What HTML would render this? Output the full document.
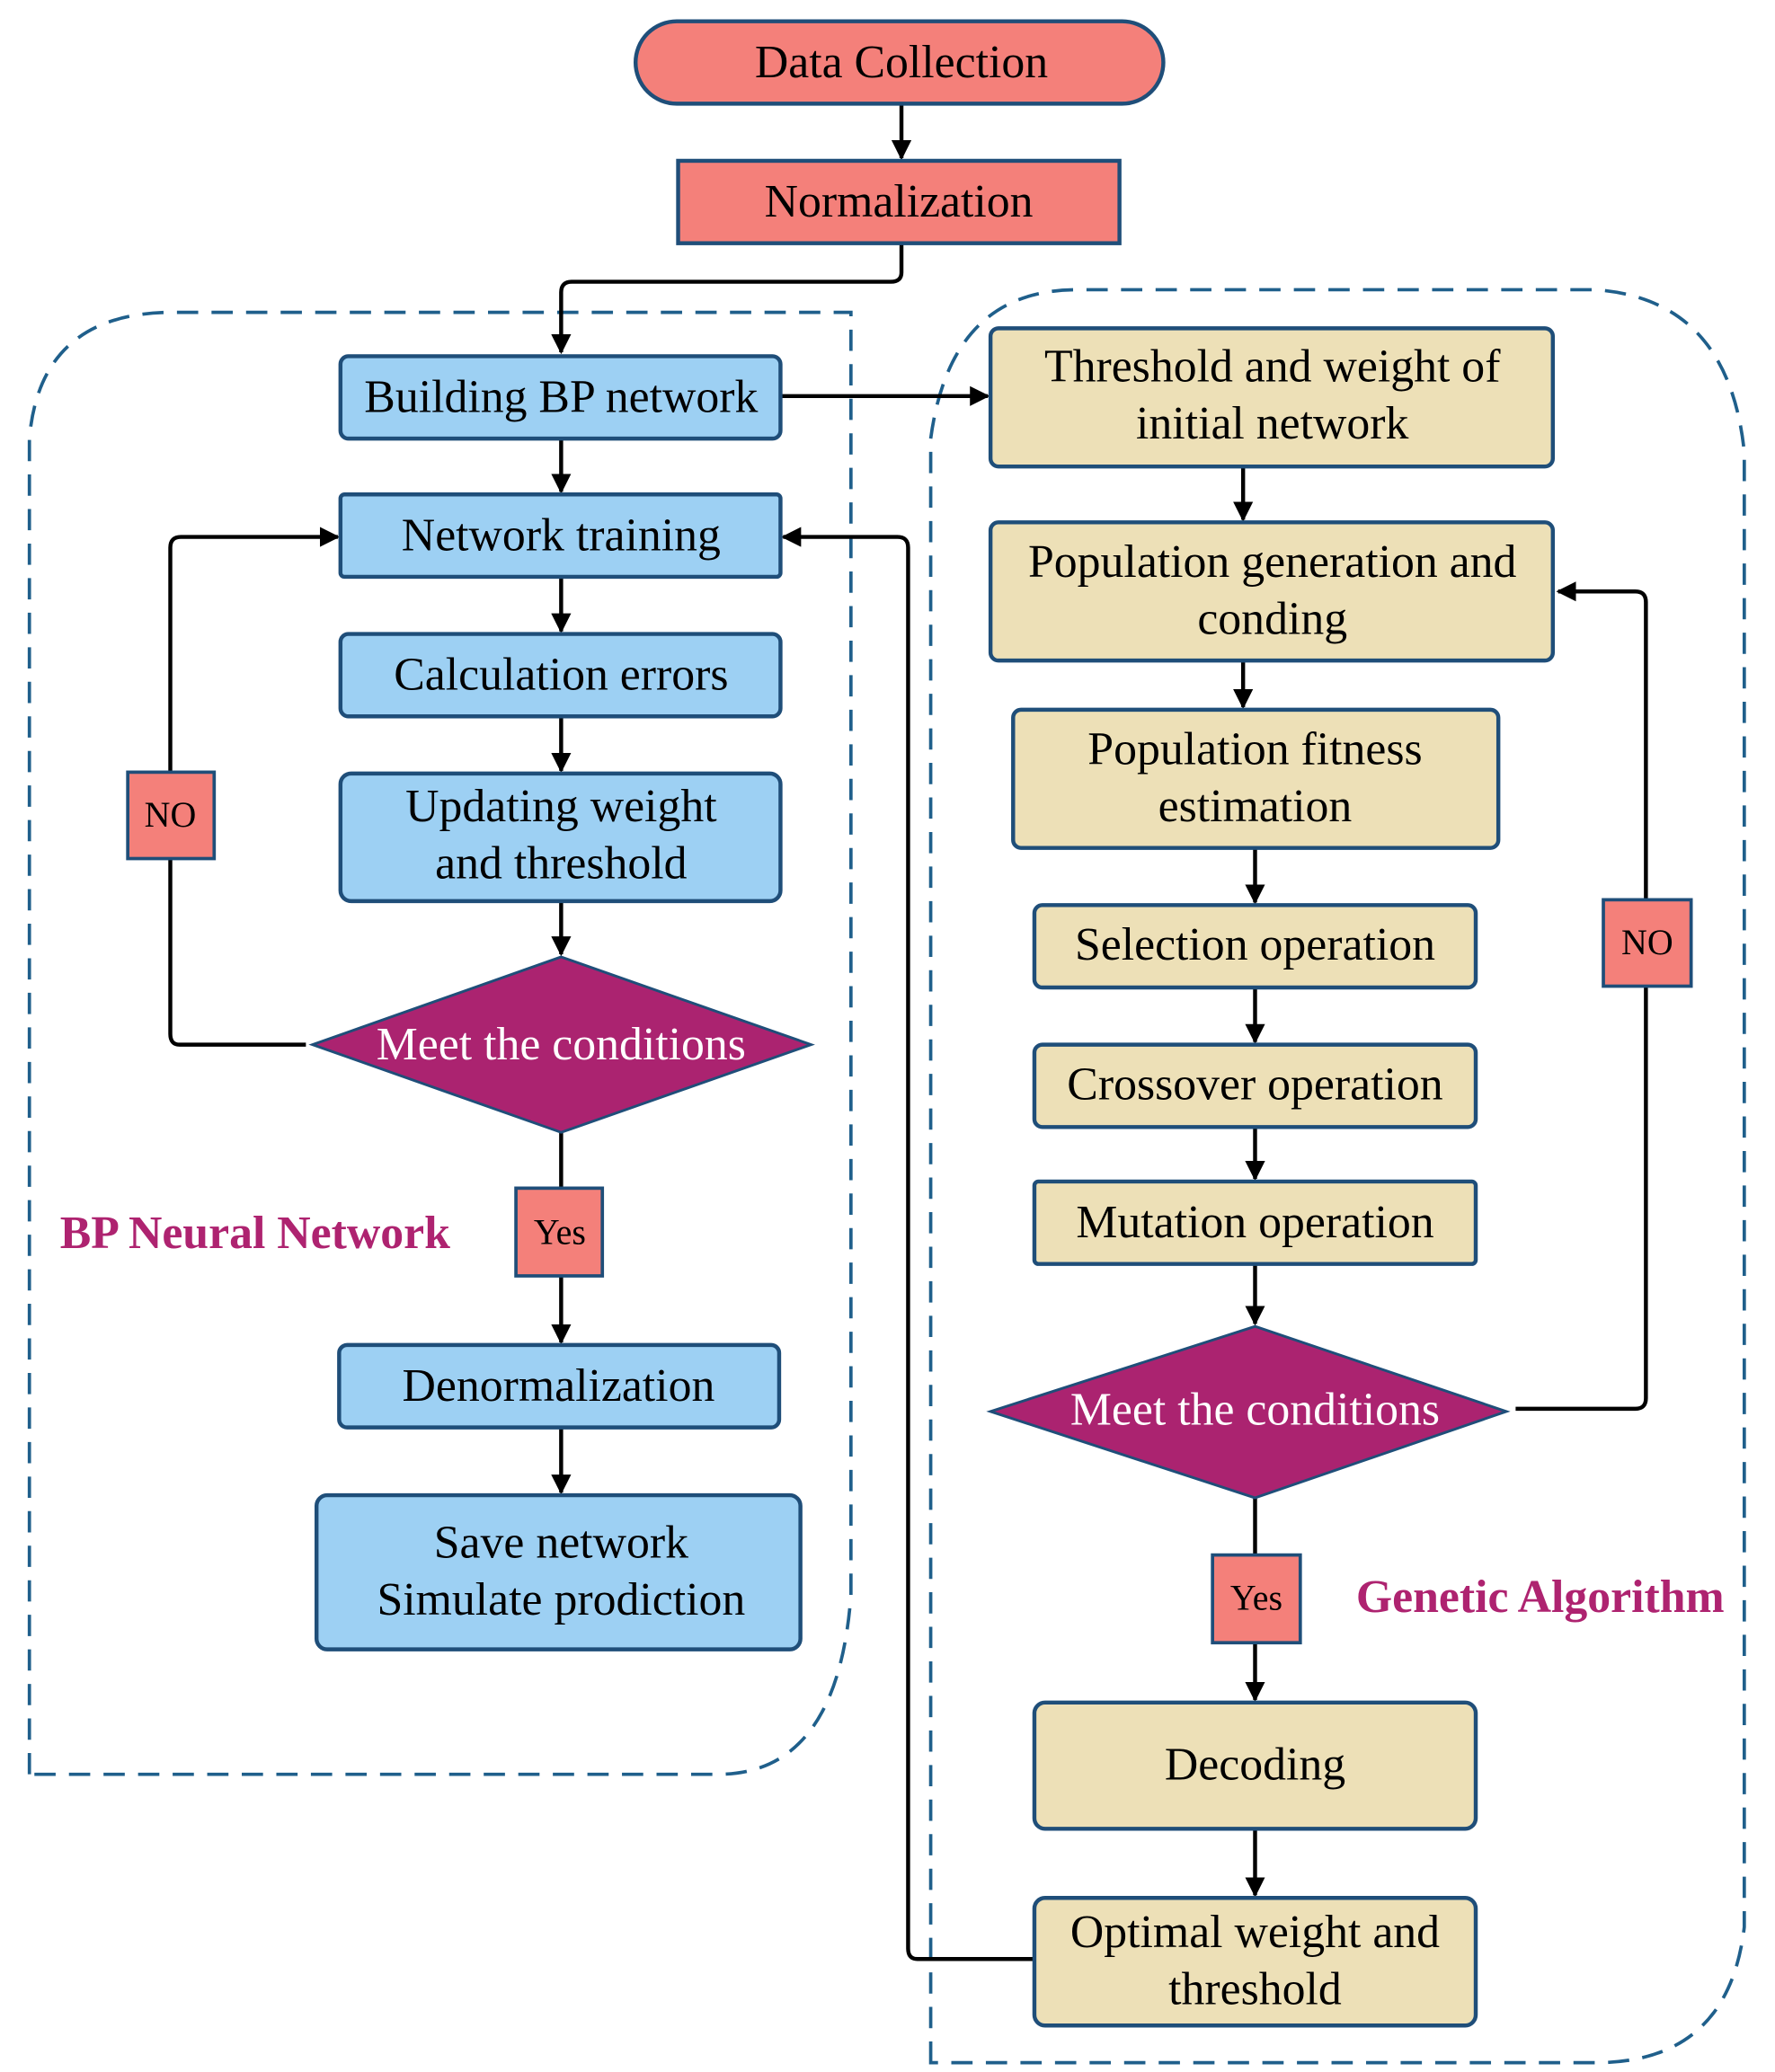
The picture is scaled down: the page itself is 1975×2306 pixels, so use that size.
<!DOCTYPE html>
<html><head><meta charset="utf-8"><style>html,body{margin:0;padding:0;background:#fff}svg{display:block}</style></head><body>
<svg width="1975" height="2306" viewBox="0 0 1335 1559" xmlns="http://www.w3.org/2000/svg" font-family="Liberation Serif, serif">
<defs><marker id="a" viewBox="0 0 10 10" refX="9" refY="5" markerWidth="5" markerHeight="5" orient="auto"><path d="M0,0L10,5L0,10z" fill="#000"/></marker></defs>
<g fill="none" stroke="#1f5f8b" stroke-width="2.5" stroke-dasharray="16,10">
<path d="M22,1335 L22,330 Q30,235 130,235 L640,235 L640,1200 Q630,1335 540,1335 Z"/>
<path d="M700,1552 L700,330 Q715,218 810,218 L1200,218 Q1300,225 1312,340 L1312,1450 Q1300,1552 1200,1552 Z"/>
</g>
<g fill="none" stroke="#000" stroke-width="3" marker-end="url(#a)">
<path d="M678,78 L678,119"/>
<path d="M678,183 L678,205 Q678,212 670,212 L430,212 Q422,212 422,220 L422,265"/>
<path d="M422,330 L422,370"/>
<path d="M422,434 L422,475"/>
<path d="M422,539 L422,580"/>
<path d="M422,678 L422,718"/>
<path d="M422,852 L422,1010"/>
<path d="M422,1074 L422,1123"/>
<path d="M230,786 L135,786 Q128,786 128,778 L128,412 Q128,404 136,404 L254,404"/>
<path d="M587,298 L743,298"/>
<path d="M778,1474 L690,1474 Q683,1474 683,1466 L683,412 Q683,404 675,404 L589,404"/>
<path d="M935,351 L935,391"/>
<path d="M935,497 L935,532"/>
<path d="M944,638 L944,679"/>
<path d="M944,743 L944,784"/>
<path d="M944,848 L944,887"/>
<path d="M944,951 L944,996"/>
<path d="M944,1127 L944,1279"/>
<path d="M944,1376 L944,1426"/>
<path d="M1140,1060 L1230,1060 Q1238,1060 1238,1052 L1238,453 Q1238,445 1230,445 L1172,445"/>
</g>
<g stroke="#1f4e79" stroke-width="3">
<rect x="478" y="16" width="397" height="62" rx="31" fill="#f4807a"/>
<rect x="510" y="121" width="332" height="62" fill="#f4807a"/>
<g fill="#9dd0f3">
<rect x="256" y="268" width="331" height="62" rx="6"/>
<rect x="256" y="372" width="331" height="62" rx="3"/>
<rect x="256" y="477" width="331" height="62" rx="6"/>
<rect x="256" y="582" width="331" height="96" rx="8"/>
<rect x="255" y="1012" width="331" height="62" rx="6"/>
<rect x="238" y="1125" width="364" height="116" rx="8"/>
</g>
<g fill="#ede0b7">
<rect x="745" y="247" width="423" height="104" rx="6"/>
<rect x="745" y="393" width="423" height="104" rx="6"/>
<rect x="762" y="534" width="365" height="104" rx="6"/>
<rect x="778" y="681" width="332" height="62" rx="6"/>
<rect x="778" y="786" width="332" height="62" rx="6"/>
<rect x="778" y="889" width="332" height="62" rx="3"/>
<rect x="778" y="1281" width="332" height="95" rx="8"/>
<rect x="778" y="1428" width="332" height="96" rx="8"/>
</g>
<g fill="#ab2370" stroke-width="2">
<path d="M422,720 L610,786 L422,852 L235,786 Z"/>
<path d="M944,998 L1133,1062 L944,1127 L745,1062 Z"/>
</g>
<g fill="#f4807a" stroke-width="2.5">
<rect x="388" y="894" width="65" height="66"/>
<rect x="96" y="581" width="65" height="65"/>
<rect x="912" y="1170" width="66" height="66"/>
<rect x="1206" y="677" width="66" height="65"/>
</g>
</g>
<g font-size="35" text-anchor="middle" fill="#000">
<text x="678" y="58">Data Collection</text>
<text x="676" y="163">Normalization</text>
<text x="422" y="310">Building BP network</text>
<text x="422" y="414">Network training</text>
<text x="422" y="519">Calculation errors</text>
<text x="422" y="618">Updating weight</text>
<text x="422" y="661">and threshold</text>
<text x="422" y="797" fill="#fff">Meet the conditions</text>
<text x="420" y="1054">Denormalization</text>
<text x="422" y="1172">Save network</text>
<text x="422" y="1215">Simulate prodiction</text>
<text x="957" y="287">Threshold and weight of</text>
<text x="957" y="330">initial network</text>
<text x="957" y="434">Population generation and</text>
<text x="957" y="477">conding</text>
<text x="944" y="575">Population fitness</text>
<text x="944" y="618">estimation</text>
<text x="944" y="722">Selection operation</text>
<text x="944" y="827">Crossover operation</text>
<text x="944" y="931">Mutation operation</text>
<text x="944" y="1072" fill="#fff">Meet the conditions</text>
<text x="944" y="1339">Decoding</text>
<text x="944" y="1465">Optimal weight and</text>
<text x="944" y="1508">threshold</text>
</g>
<g font-size="27" text-anchor="middle">
<text x="421" y="936">Yes</text>
<text x="128" y="622">NO</text>
<text x="945" y="1211">Yes</text>
<text x="1239" y="718">NO</text>
</g>
<g font-size="35" font-weight="bold" fill="#ae2370">
<text x="45" y="939">BP Neural Network</text>
<text x="1020" y="1213">Genetic Algorithm</text>
</g>
</svg>
</body></html>
